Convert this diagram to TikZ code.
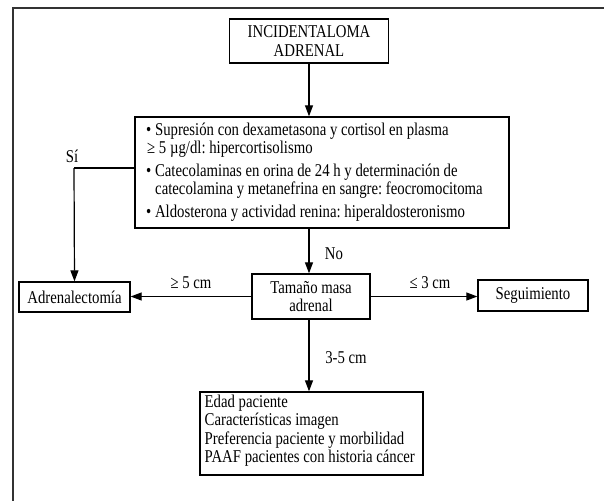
\documentclass[tikz,border=0pt]{standalone}
\usepackage{fontspec}
\setmainfont[FakeStretch=0.82]{Liberation Serif}
\usetikzlibrary{arrows.meta}
\begin{document}
\frenchspacing
\begin{tikzpicture}[x=1pt,y=-1pt,
  txt/.style={font=\fontsize{18}{18.5}\selectfont},
  box/.style={draw, line width=1.3pt, inner sep=0pt, txt},
  conn/.style={line width=1.2pt, -{Triangle[length=11pt,width=8pt]}},
  plain/.style={line width=1.2pt},
  lab/.style={txt, inner sep=0pt}]
\useasboundingbox (0,0) rectangle (604,501);
\draw[line width=2pt, black!80] (604,8) -- (12.5,8) -- (12.5,501);

\node[box, minimum width=159pt, minimum height=44pt, align=center] (inc) at (309,41) {INCIDENTALOMA\\ADRENAL};

\node[box, minimum width=374pt, minimum height=111pt] (big) at (322,172.5) {};
\node[lab, anchor=west, align=left] (bigtxt) at (146,172)
{• Supresión con dexametasona y cortisol en plasma\\
\hspace*{1pt}≥ 5 µg/dl: hipercortisolismo\\[4pt]
• Catecolaminas en orina de 24 h y determinación de\\
\hspace*{9pt}catecolamina y metanefrina en sangre: feocromocitoma\\[4pt]
• Aldosterona y actividad renina: hiperaldosteronismo};

\node[box, minimum width=118pt, minimum height=45pt, align=center] (tam) at (311,296.5) {Tamaño masa\\adrenal};
\node[box, minimum width=111pt, minimum height=30pt] (adr) at (74.5,297) {Adrenalectomía};
\node[box, minimum width=110pt, minimum height=31pt] (seg) at (533,295.5) {Seguimiento};
\node[box, minimum width=223pt, minimum height=83pt] (bot) at (311.5,433.5) {};
\node[lab, anchor=west, align=left] (bottxt) at (204.5,430.5)
{Edad paciente\\
Características imagen\\
Preferencia paciente y morbilidad\\
PAAF pacientes con historia cáncer};

\coordinate (si) at (74,168);
\draw[conn] (inc.south) -- (inc |- big.north);
\draw[conn] (inc |- big.south) -- (inc |- tam.north);
\draw[plain] (big.west |- si) -- (si);
\draw[conn] (si) -- (adr.north);
\draw[conn] (tam.west) -- (tam.west -| adr.east);
\draw[conn] (tam.east) -- (tam.east -| seg.west);
\draw[conn] (inc |- tam.south) -- (inc |- bot.north);

\node[lab] (lsi) at (72,156) {Sí};
\node[lab] (lno) at (334,254) {No};
\node[lab] (l5) at (191,283) {≥ 5 cm};
\node[lab] (l3) at (430,283) {≤ 3 cm};
\node[lab] (l35) at (346,358) {3-5 cm};
\end{tikzpicture}
\end{document}
